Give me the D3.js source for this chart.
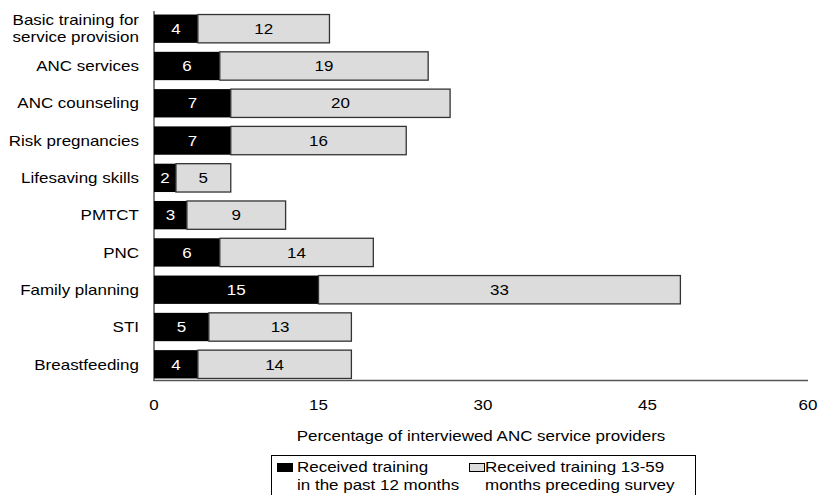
<!DOCTYPE html>
<html><head><meta charset="utf-8">
<script src="https://cdn.jsdelivr.net/npm/d3@7"></script>
<style>body{margin:0;background:#fff}svg{font-family:"Liberation Sans",Arial,sans-serif}</style>
</head><body><svg id="c" width="820" height="495"></svg>
<script>
const categories = [["Basic training for","service provision"],["ANC services"],["ANC counseling"],["Risk pregnancies"],["Lifesaving skills"],["PMTCT"],["PNC"],["Family planning"],["STI"],["Breastfeeding"]];
const past12 = [4,6,7,7,2,3,6,15,5,4];
const months13to59 = [12,19,20,16,5,9,14,33,13,14];
const xTicks = [0,15,30,45,60];
const seriesNames = [["Received training","in the past 12 months"],["Received training 13-59","months preceding survey"]];

const svg = d3.select("#c");
const x = d3.scaleLinear().domain([0,60]).range([154,812]);
const y = d3.scaleBand().domain(d3.range(categories.length)).range([10.8,382.2]).paddingInner(0.24).paddingOuter(0.1);
const FS = 14.5;

const rows = svg.append("g").selectAll("g").data(categories).join("g");
rows.append("rect").attr("x",x(0)).attr("y",(d,i)=>y(i)).attr("width",(d,i)=>x(past12[i])-x(0)).attr("height",y.bandwidth()).attr("fill","#000");
rows.append("rect").attr("x",(d,i)=>x(past12[i])).attr("y",(d,i)=>y(i)).attr("width",(d,i)=>x(past12[i]+months13to59[i])-x(past12[i])).attr("height",y.bandwidth()).attr("fill","#dcdcdc").attr("stroke","#333").attr("stroke-width",1.3);
rows.append("text").attr("x",(d,i)=>x(past12[i]/2)).attr("y",(d,i)=>y(i)+y.bandwidth()/2).attr("dy","0.36em").attr("text-anchor","middle").attr("fill","#fff").attr("font-size",FS).text((d,i)=>past12[i]);
rows.append("text").attr("x",(d,i)=>x(past12[i]+months13to59[i]/2)).attr("y",(d,i)=>y(i)+y.bandwidth()/2).attr("dy","0.36em").attr("text-anchor","middle").attr("fill","#000").attr("font-size",FS).text((d,i)=>months13to59[i]);
rows.each(function(d,i){
  const cy = y(i)+y.bandwidth()/2;
  d.forEach((line,k)=>{
    d3.select(this).append("text").attr("text-anchor","end").attr("font-size",FS).attr("fill","#000")
      .attr("x",139).attr("y",cy + (k-(d.length-1)/2)*17).attr("dy","0.36em").text(line);
  });
});

// axes
svg.append("line").attr("x1",x(0)).attr("x2",x(0)).attr("y1",11).attr("y2",381).attr("stroke","#000").attr("stroke-width",1);
svg.append("line").attr("x1",x(0)-0.5).attr("x2",808).attr("y1",380.5).attr("y2",380.5).attr("stroke","#555").attr("stroke-width",1.6);
svg.append("g").selectAll("text").data(xTicks).join("text")
  .attr("x",d=>Math.min(x(d),808)).attr("y",405).attr("dy","0.36em").attr("text-anchor","middle").attr("font-size",FS).text(d=>d);
svg.append("text").attr("x",481).attr("y",436).attr("dy","0.36em").attr("text-anchor","middle").attr("font-size",FS).text("Percentage of interviewed ANC service providers");

// legend
const lg = svg.append("g");
lg.append("rect").attr("x",271.5).attr("y",455.5).attr("width",424).attr("height",50).attr("fill","#fff").attr("stroke","#000");
const lx = [277,469], tx = [297,485], fills = ["#000","#dcdcdc"];
seriesNames.forEach((s,i)=>{
  lg.append("rect").attr("x",lx[i]+0.5).attr("y",463.5).attr("width",15).attr("height",8).attr("fill",fills[i]).attr("stroke","#000");
  s.forEach((line,k)=>lg.append("text").attr("font-size",FS).attr("x",tx[i]).attr("y",467+k*18).attr("dy","0.36em").text(line));
});

// horizontal stretch of text to match reference glyph widths
svg.selectAll("text").each(function(){
  const L = this.getComputedTextLength();
  d3.select(this).attr("textLength",L*1.17).attr("lengthAdjust","spacingAndGlyphs");
});
</script></body></html>
